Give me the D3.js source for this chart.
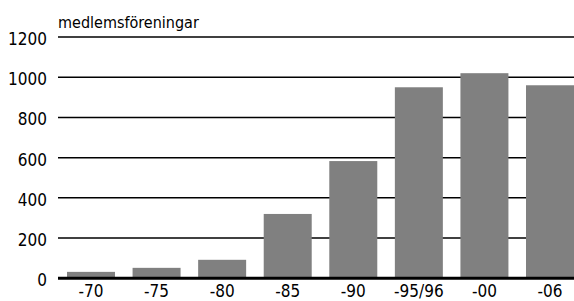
<!DOCTYPE html>
<html>
<head>
<meta charset="utf-8">
<script src="https://cdn.jsdelivr.net/npm/d3@7"></script>
<style>
  body { margin: 0; background: #fff; }
  svg { display: block; font-family: "Liberation Sans Narrow", "DejaVu Sans Condensed", "Liberation Sans", sans-serif; }
</style>
</head>
<body>
<svg id="chart" width="574" height="301"></svg>
<script>
const categories = ['-70', '-75', '-80', '-85', '-90', '-95/96', '-00', '-06'];
const values = [32, 52, 92, 320, 583, 950, 1020, 960];
const yTicks = [0, 200, 400, 600, 800, 1000, 1200];
const yLabel = 'medlemsföreningar';

const svg = d3.select('#chart');
const width = 574;

const x = d3.scaleBand()
  .domain(categories)
  .range([67, 574])
  .paddingInner(0.268)
  .paddingOuter(0);

const y = d3.scaleLinear()
  .domain([0, 1200])
  .range([278.3, 37]);

// gridlines
svg.append('g')
  .selectAll('line')
  .data(yTicks.filter(d => d > 0))
  .enter()
  .append('line')
  .attr('x1', 58)
  .attr('x2', width)
  .attr('y1', d => y(d))
  .attr('y2', d => y(d))
  .attr('stroke', '#000')
  .attr('stroke-width', 1.5);

// bars
svg.append('g')
  .selectAll('rect')
  .data(values)
  .enter()
  .append('rect')
  .attr('x', (d, i) => x(categories[i]))
  .attr('y', d => y(d))
  .attr('width', x.bandwidth())
  .attr('height', d => y(0) - y(d))
  .attr('fill', '#808080');

// baseline
svg.append('line')
  .attr('x1', 58)
  .attr('x2', width)
  .attr('y1', y(0))
  .attr('y2', y(0))
  .attr('stroke', '#000')
  .attr('stroke-width', 3);

// y tick labels
svg.append('g')
  .selectAll('text')
  .data(yTicks)
  .enter()
  .append('text')
  .attr('x', 47)
  .attr('y', d => y(d) + 8)
  .attr('text-anchor', 'end')
  .attr('font-size', 17)
  .text(d => d);

// x tick labels
svg.append('g')
  .selectAll('text')
  .data(categories)
  .enter()
  .append('text')
  .attr('x', d => x(d) + x.bandwidth() / 2)
  .attr('y', 297)
  .attr('text-anchor', 'middle')
  .attr('font-size', 17)
  .text(d => d);

// axis title
svg.append('text')
  .attr('x', 58)
  .attr('y', 28)
  .attr('font-size', 16)
  .text(yLabel);
</script>
</body>
</html>
